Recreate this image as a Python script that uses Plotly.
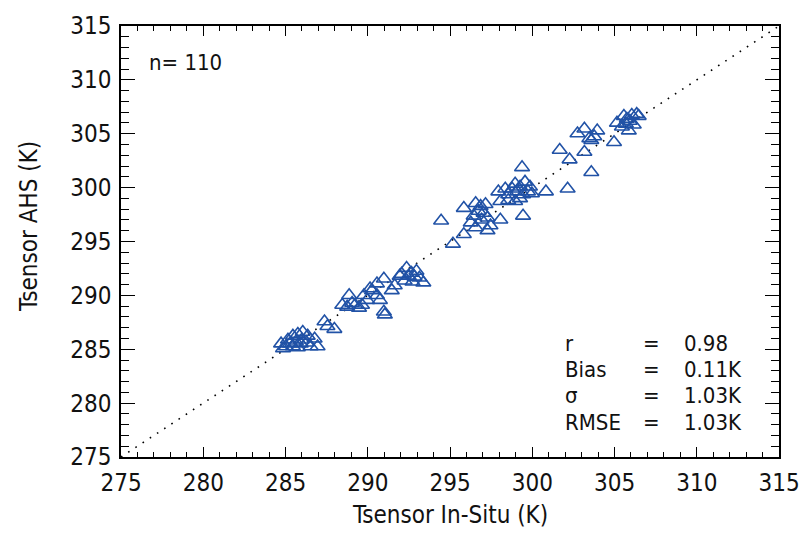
import plotly.graph_objects as go

# In-situ sensor temperature (K) vs AHS sensor temperature (K)
t_insitu = [
    306.35, 305.57, 306.47, 305.15, 305.93, 305.75, 305.87, 304.97, 306.17, 305.45, 306.05, 305.69,
    302.75, 303.17, 303.95, 303.47, 303.59, 303.77, 303.17, 301.67, 302.27, 303.59, 302.15, 300.83,
    299.38, 298.96, 299.26, 299.56, 299.86, 299.74, 299.44, 299.08, 298.78, 299.98, 298.54, 297.94,
    298.06, 298.54, 298.96, 299.44, 299.26, 298.36,
    296.56, 296.86, 297.16, 296.74, 297.04, 296.44, 297.28, 296.92, 295.84, 298.06, 297.28, 296.56,
    295.84, 295.18, 294.46, 297.46, 296.26,
    292.36, 292.66, 292.48, 292.84, 293.14, 293.38, 292.96, 292.06, 291.94, 292.24, 292.72,
    290.98, 290.56, 290.14, 289.77, 290.56, 291.04, 289.47, 290.26, 289.96, 289.05, 288.75, 288.45,
    289.23, 289.65, 290.98, 291.46, 290.74, 291.64, 288.87,
    287.37, 287.97, 287.55,
    284.73, 285.15, 285.45, 285.75, 286.05, 286.35, 285.03, 285.45, 285.93, 286.53, 286.77, 285.63,
    285.99, 285.27, 285.75, 284.85, 286.29, 286.95,
]
t_ahs = [
    306.82, 306.64, 306.64, 306.01, 306.19, 306.37, 305.29, 304.21, 305.83, 305.65, 306.73, 305.92,
    305.02, 305.47, 305.29, 304.57, 304.39, 304.75, 303.31, 303.49, 302.60, 301.43, 299.90, 299.63,
    301.88, 300.35, 300.08, 300.53, 300.08, 299.63, 299.36, 299.63, 299.90, 299.45, 299.36, 299.63,
    298.73, 298.82, 298.73, 297.38, 299.00, 299.90,
    298.55, 298.28, 298.46, 297.83, 297.65, 297.38, 297.20, 297.02, 298.10, 297.02, 296.03, 296.30,
    295.67, 294.78, 296.93, 296.48, 296.75,
    292.53, 292.08, 291.81, 291.72, 291.63, 291.18, 292.26, 291.99, 291.81, 291.36, 291.27,
    291.54, 291.09, 290.64, 290.01, 290.01, 288.21, 288.84, 290.46, 289.56, 289.29, 288.93, 289.11,
    289.11, 289.11, 288.48, 290.46, 289.56, 290.91, 290.01,
    287.58, 286.87, 287.13,
    285.52, 285.88, 286.24, 286.42, 286.60, 286.24, 285.25, 285.25, 285.52, 285.25, 285.97, 285.70,
    285.88, 285.52, 285.16, 285.07, 285.61, 285.25,
]

axis_range = [275, 315]
tick_vals = [275, 280, 285, 290, 295, 300, 305, 310, 315]
stat_names = ["r", "Bias", "σ", "RMSE"]
stat_values = ["0.98", "0.11K", "1.03K", "1.03K"]
n_label = "n= 110"

FONT = "DejaVu Sans Condensed, Liberation Sans Narrow, DejaVu Sans"
BLUE = "#2152a6"

fig = go.Figure()

# 1:1 reference line
fig.add_trace(go.Scatter(
    x=axis_range, y=axis_range, mode="lines",
    line=dict(color="black", width=1.6, dash="1.6px,7px"),
    hoverinfo="skip", showlegend=False,
))

fig.add_trace(go.Scatter(
    x=t_insitu, y=t_ahs, mode="markers",
    marker=dict(symbol="triangle-up-open", size=13, color=BLUE, line=dict(width=1.6, color=BLUE)),
    showlegend=False,
))

common = dict(
    range=axis_range, tickvals=tick_vals, ticks="inside", mirror="ticks",
    showline=True, linecolor="black", linewidth=1.5, showgrid=False, zeroline=False,
    tickcolor="black", tickwidth=1.2,
    tickfont=dict(family=FONT, size=24, color="#111"),
)

fig.update_xaxes(
    **common, ticklen=10,
    minor=dict(dtick=1, ticks="inside", ticklen=5, tickcolor="black", tickwidth=1.2),
    ticklabelstandoff=3,
)
fig.update_yaxes(
    **common, ticklen=14,
    minor=dict(dtick=1, ticks="inside", ticklen=8, tickcolor="black", tickwidth=1.2),
    ticklabelstandoff=3,
)

annotations = [
    dict(text="Tsensor In-Situ (K)", x=0.5, y=-0.135, xref="paper", yref="paper",
         xanchor="center", yanchor="middle", showarrow=False,
         font=dict(family=FONT, size=24, color="#111")),
    dict(text="Tsensor AHS (K)", x=-0.139, y=0.535, xref="paper", yref="paper",
         xanchor="center", yanchor="middle", textangle=-90, showarrow=False,
         font=dict(family=FONT, size=24, color="#111")),
    dict(text=n_label, x=0.04, y=0.915, xref="paper", yref="paper",
         xanchor="left", yanchor="middle", showarrow=False,
         font=dict(family=FONT, size=22, color="#111")),
]

row_y = [0.263, 0.202, 0.142, 0.081]
for name, val, yy in zip(stat_names, stat_values, row_y):
    annotations.append(dict(text=name, x=0.672, y=yy, xref="paper", yref="paper",
                            xanchor="left", yanchor="middle", showarrow=False,
                            font=dict(family=FONT, size=22, color="#111")))
    annotations.append(dict(text="=", x=0.806, y=yy, xref="paper", yref="paper",
                            xanchor="center", yanchor="middle", showarrow=False,
                            font=dict(family=FONT, size=22, color="#111")))
    annotations.append(dict(text=val, x=0.852, y=yy, xref="paper", yref="paper",
                            xanchor="left", yanchor="middle", showarrow=False,
                            font=dict(family=FONT, size=22, color="#111")))

fig.update_layout(
    width=812, height=533,
    margin=dict(l=121, r=25, t=12, b=76),
    plot_bgcolor="white", paper_bgcolor="white",
    annotations=annotations,
)

fig.write_html("out.html")
